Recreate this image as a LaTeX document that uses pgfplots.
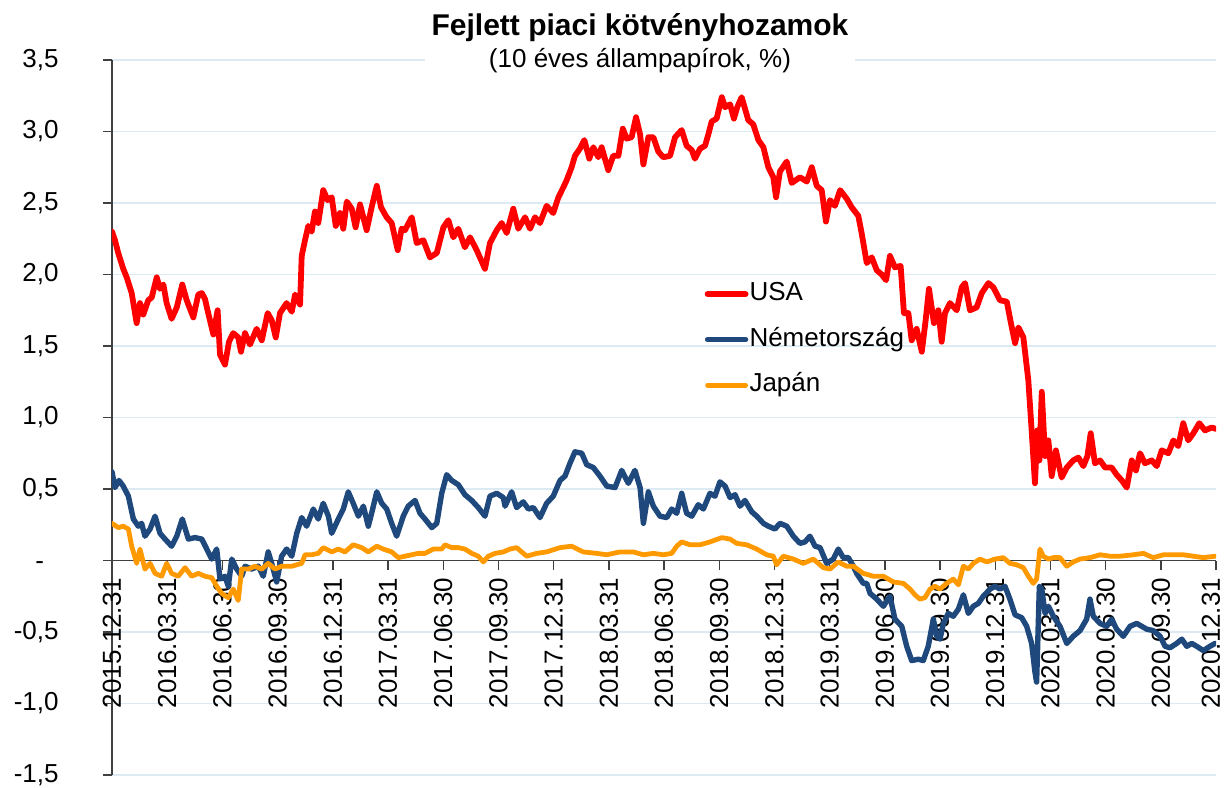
\documentclass[border=0pt]{standalone}
\usepackage{pgfplots}
\pgfplotsset{compat=1.18}
\usepackage{fontspec}
\setmainfont{Liberation Sans}
\definecolor{usared}{HTML}{FF0000}
\definecolor{deblue}{HTML}{1F497D}
\definecolor{jporange}{HTML}{FF9900}
\definecolor{gridblue}{HTML}{DCEBF3}
\definecolor{axisgray}{HTML}{404040}
\begin{document}
\begin{tikzpicture}
\begin{axis}[
  scale only axis,
  width=552pt, height=357.5pt,
  xmin=0, xmax=60, ymin=-1.5, ymax=3.5,
  axis x line*=middle, axis y line*=left,
  hide obscured x ticks=false, hide obscured y ticks=false,
  axis line style={axisgray, line width=0.7pt},
  tick style={axisgray, line width=0.7pt},
  tick align=outside,
  major tick length=4.5pt,
  ytick={-1.5,-1,-0.5,0,0.5,1,1.5,2,2.5,3,3.5},
  yticklabels={{-1,5},{-1,0},{-0,5},{-\phantom{5}},{0,5},{1,0},{1,5},{2,0},{2,5},{3,0},{3,5}},
  xtick={0,3,...,60},
  xticklabels={2015.12.31,2016.03.31,2016.06.30,2016.09.30,2016.12.31,2017.03.31,2017.06.30,2017.09.30,2017.12.31,2018.03.31,2018.06.30,2018.09.30,2018.12.31,2019.03.31,2019.06.30,2019.09.30,2019.12.31,2020.03.31,2020.06.30,2020.09.30,{\raisebox{2.5pt}[\height][\depth]{2020.12.31}}},
  tick label style={font=\fontsize{13}{15}\selectfont, text=black},
  yticklabel style={anchor=east, inner sep=0pt, xshift=-22pt},
  xticklabel style={rotate=90, anchor=east, inner sep=0pt, xshift=-4pt},
  ymajorgrids, grid style={gridblue, line width=0.8pt},
  legend style={at={(0.5365,0.692)}, anchor=north west, draw=none, fill=none,
    font=\fontsize{13}{15}\selectfont, row sep=9.25pt, inner sep=0pt,
    nodes={inner sep=0.5pt, text height=9.5pt, text depth=3pt}},
  legend cell align=left,
  legend image code/.code={\draw[#1, line cap=round] (0pt,0pt) -- (19pt,0pt);},
]
\addplot[usared, line width=2.9pt, line join=round, line cap=round] coordinates {
(0.00,2.30)(0.16,2.24)(0.34,2.15)(0.61,2.04)(0.80,1.98)(1.07,1.87)(1.34,1.66)(1.52,1.80)(1.70,1.72)(1.97,1.82)
(2.16,1.84)(2.43,1.98)(2.61,1.90)(2.79,1.93)(2.97,1.80)(3.24,1.69)(3.52,1.77)(3.82,1.93)(4.06,1.82)(4.42,1.70)
(4.69,1.86)(4.88,1.87)(5.05,1.83)(5.23,1.73)(5.51,1.58)(5.74,1.75)(5.87,1.44)(6.14,1.37)(6.36,1.53)(6.59,1.59)
(6.86,1.56)(7.01,1.46)(7.23,1.59)(7.50,1.51)(7.86,1.62)(8.14,1.54)(8.46,1.73)(8.68,1.68)(8.90,1.56)(9.13,1.73)
(9.49,1.80)(9.77,1.74)(9.95,1.86)(10.22,1.79)(10.31,2.13)(10.49,2.24)(10.67,2.34)(10.85,2.30)(11.03,2.44)(11.21,2.36)
(11.48,2.59)(11.72,2.52)(11.94,2.54)(12.16,2.34)(12.39,2.43)(12.57,2.32)(12.76,2.51)(13.03,2.46)(13.24,2.33)(13.48,2.49)
(13.84,2.31)(14.11,2.47)(14.39,2.62)(14.62,2.47)(14.93,2.40)(15.20,2.36)(15.53,2.17)(15.74,2.32)(15.92,2.31)(16.29,2.40)
(16.56,2.22)(16.92,2.24)(17.28,2.12)(17.65,2.15)(18.01,2.33)(18.28,2.38)(18.55,2.26)(18.82,2.32)(19.18,2.19)(19.46,2.26)
(19.82,2.17)(20.27,2.04)(20.54,2.22)(20.91,2.31)(21.18,2.36)(21.45,2.29)(21.81,2.46)(22.08,2.32)(22.45,2.40)(22.72,2.32)
(22.99,2.40)(23.26,2.36)(23.62,2.48)(23.98,2.43)(24.26,2.54)(24.53,2.61)(24.71,2.66)(24.98,2.75)(25.16,2.83)(25.43,2.88)
(25.67,2.94)(25.94,2.81)(26.16,2.89)(26.43,2.82)(26.61,2.89)(26.97,2.73)(27.24,2.83)(27.52,2.83)(27.76,3.02)(27.97,2.95)
(28.24,2.96)(28.48,3.10)(28.70,2.98)(28.88,2.77)(29.15,2.96)(29.42,2.96)(29.69,2.86)(29.96,2.82)(30.33,2.83)(30.60,2.96)
(30.96,3.01)(31.23,2.90)(31.51,2.87)(31.68,2.81)(31.96,2.88)(32.23,2.90)(32.41,2.98)(32.59,3.07)(32.86,3.09)(33.14,3.24)
(33.32,3.17)(33.59,3.19)(33.80,3.09)(33.98,3.17)(34.22,3.24)(34.58,3.08)(34.85,3.05)(35.13,2.94)(35.40,2.89)(35.67,2.75)
(35.94,2.68)(36.09,2.54)(36.30,2.72)(36.67,2.79)(36.94,2.64)(37.39,2.68)(37.76,2.65)(38.03,2.75)(38.30,2.62)(38.57,2.59)
(38.80,2.37)(39.02,2.52)(39.29,2.48)(39.57,2.59)(39.93,2.53)(40.20,2.47)(40.56,2.41)(40.74,2.29)(41.02,2.08)(41.29,2.12)
(41.56,2.03)(41.83,2.00)(42.07,1.96)(42.28,2.13)(42.55,2.05)(42.86,2.06)(43.04,1.73)(43.28,1.73)(43.46,1.54)(43.73,1.62)
(44.01,1.46)(44.22,1.68)(44.40,1.90)(44.67,1.66)(44.91,1.75)(45.09,1.53)(45.27,1.73)(45.54,1.80)(45.91,1.75)(46.18,1.91)
(46.36,1.94)(46.63,1.75)(46.99,1.77)(47.27,1.87)(47.63,1.94)(47.90,1.91)(48.26,1.82)(48.63,1.81)(48.90,1.63)(49.08,1.52)
(49.26,1.63)(49.53,1.56)(49.80,1.26)(49.98,0.91)(50.16,0.54)(50.29,0.91)(50.40,0.70)(50.53,1.18)(50.71,0.73)(50.89,0.84)
(51.07,0.59)(51.30,0.77)(51.61,0.58)(51.89,0.65)(52.24,0.70)(52.52,0.72)(52.79,0.66)(53.01,0.73)(53.19,0.89)(53.42,0.68)
(53.70,0.70)(53.97,0.65)(54.33,0.65)(54.60,0.60)(54.88,0.56)(55.15,0.51)(55.42,0.70)(55.65,0.63)(55.87,0.75)(56.14,0.68)
(56.51,0.70)(56.78,0.66)(57.05,0.77)(57.41,0.75)(57.68,0.84)(57.95,0.80)(58.22,0.96)(58.49,0.84)(58.77,0.89)(59.09,0.96)
(59.40,0.91)(59.77,0.93)(60.00,0.92)
};
\addlegendentry{USA}
\addplot[deblue, line width=2.7pt, line join=round, line cap=round] coordinates {
(0.00,0.62)(0.16,0.51)(0.38,0.56)(0.61,0.52)(0.89,0.45)(1.16,0.29)(1.43,0.24)(1.61,0.26)(1.79,0.17)(2.07,0.22)
(2.34,0.31)(2.61,0.19)(2.88,0.15)(3.24,0.10)(3.52,0.17)(3.82,0.29)(4.15,0.15)(4.51,0.16)(4.88,0.15)(5.15,0.08)
(5.42,0.01)(5.69,0.08)(5.87,-0.13)(6.14,-0.11)(6.32,-0.18)(6.51,0.01)(6.78,-0.06)(7.05,-0.11)(7.23,-0.04)(7.59,-0.06)
(7.95,-0.04)(8.22,-0.11)(8.49,0.06)(8.68,-0.02)(8.95,-0.15)(9.22,0.03)(9.49,0.08)(9.77,0.03)(10.04,0.19)(10.31,0.30)
(10.58,0.24)(10.94,0.36)(11.21,0.29)(11.48,0.40)(11.76,0.31)(11.94,0.19)(12.30,0.29)(12.57,0.36)(12.84,0.48)(13.11,0.40)
(13.39,0.31)(13.66,0.38)(13.93,0.24)(14.11,0.33)(14.39,0.48)(14.66,0.40)(14.93,0.36)(15.20,0.26)(15.47,0.17)(15.83,0.31)
(16.10,0.38)(16.47,0.42)(16.74,0.33)(17.01,0.29)(17.38,0.23)(17.65,0.26)(17.92,0.47)(18.19,0.60)(18.46,0.56)(18.82,0.53)
(19.18,0.46)(19.55,0.42)(19.91,0.37)(20.27,0.31)(20.54,0.45)(20.91,0.47)(21.27,0.44)(21.36,0.38)(21.72,0.48)(21.99,0.37)
(22.35,0.41)(22.63,0.36)(22.90,0.37)(23.26,0.30)(23.62,0.40)(23.98,0.45)(24.35,0.56)(24.62,0.59)(24.89,0.68)(25.16,0.76)
(25.53,0.75)(25.80,0.67)(26.16,0.65)(26.52,0.59)(26.89,0.52)(27.34,0.51)(27.70,0.63)(28.06,0.54)(28.42,0.63)(28.70,0.51)
(28.88,0.26)(29.15,0.48)(29.42,0.38)(29.78,0.31)(30.15,0.30)(30.42,0.36)(30.69,0.33)(30.96,0.47)(31.23,0.33)(31.51,0.31)
(31.86,0.39)(32.14,0.36)(32.50,0.47)(32.77,0.45)(33.04,0.55)(33.32,0.52)(33.59,0.44)(33.86,0.46)(34.13,0.38)(34.40,0.42)
(34.77,0.34)(35.04,0.31)(35.40,0.26)(35.67,0.24)(36.03,0.22)(36.30,0.26)(36.67,0.24)(37.03,0.17)(37.39,0.12)(37.66,0.13)
(37.93,0.17)(38.21,0.10)(38.48,0.09)(38.84,-0.02)(39.20,0.01)(39.47,0.08)(39.74,0.02)(40.02,0.02)(40.29,-0.04)(40.47,-0.09)
(40.83,-0.16)(41.02,-0.16)(41.20,-0.23)(41.38,-0.25)(41.56,-0.27)(41.92,-0.32)(42.28,-0.25)(42.55,-0.41)(42.92,-0.46)(43.19,-0.60)
(43.46,-0.70)(43.82,-0.69)(44.09,-0.70)(44.36,-0.60)(44.64,-0.41)(44.82,-0.53)(45.00,-0.55)(45.18,-0.44)(45.45,-0.37)(45.72,-0.39)
(46.00,-0.34)(46.27,-0.24)(46.54,-0.37)(46.81,-0.32)(47.08,-0.30)(47.35,-0.25)(47.72,-0.20)(47.99,-0.18)(48.26,-0.20)(48.53,-0.18)
(48.80,-0.27)(49.08,-0.38)(49.44,-0.40)(49.71,-0.46)(49.98,-0.58)(50.16,-0.78)(50.25,-0.85)(50.40,-0.18)(50.53,-0.20)(50.71,-0.37)
(50.89,-0.32)(51.16,-0.39)(51.52,-0.46)(51.89,-0.58)(52.24,-0.53)(52.61,-0.49)(52.97,-0.41)(53.15,-0.27)(53.33,-0.39)(53.70,-0.44)
(54.06,-0.46)(54.33,-0.41)(54.60,-0.48)(54.96,-0.53)(55.33,-0.46)(55.69,-0.44)(55.96,-0.46)(56.23,-0.48)(56.59,-0.49)(56.96,-0.53)
(57.23,-0.60)(57.50,-0.61)(57.86,-0.58)(58.14,-0.55)(58.41,-0.60)(58.68,-0.58)(58.95,-0.60)(59.31,-0.63)(59.67,-0.60)(59.95,-0.58)
};
\addlegendentry{Németország}
\addplot[jporange, line width=2.4pt, line join=round, line cap=round] coordinates {
(0.00,0.26)(0.34,0.23)(0.61,0.24)(0.89,0.22)(1.07,0.10)(1.34,-0.02)(1.52,0.08)(1.79,-0.06)(2.07,-0.02)(2.34,-0.09)
(2.70,-0.11)(2.97,-0.02)(3.24,-0.09)(3.60,-0.11)(3.97,-0.05)(4.33,-0.11)(4.69,-0.09)(5.05,-0.11)(5.42,-0.12)(5.69,-0.18)
(5.96,-0.23)(6.32,-0.26)(6.59,-0.20)(6.86,-0.28)(7.05,-0.06)(7.41,-0.06)(7.77,-0.04)(8.14,-0.06)(8.49,-0.02)(8.86,-0.06)
(9.22,-0.04)(9.77,-0.04)(10.31,-0.02)(10.49,0.04)(10.85,0.04)(11.21,0.05)(11.48,0.09)(11.94,0.06)(12.30,0.08)(12.66,0.06)
(13.11,0.11)(13.57,0.09)(13.93,0.06)(14.39,0.10)(14.74,0.08)(15.20,0.06)(15.56,0.02)(15.92,0.03)(16.29,0.04)(16.65,0.05)
(17.01,0.05)(17.46,0.08)(17.92,0.08)(18.10,0.11)(18.46,0.09)(18.82,0.09)(19.18,0.08)(19.55,0.05)(19.91,0.03)(20.18,-0.01)
(20.45,0.03)(20.82,0.05)(21.27,0.06)(21.63,0.08)(21.99,0.09)(22.54,0.03)(23.08,0.05)(23.62,0.06)(24.35,0.09)(24.98,0.10)
(25.61,0.06)(26.34,0.05)(26.89,0.04)(27.61,0.06)(28.33,0.06)(28.88,0.04)(29.42,0.05)(29.96,0.04)(30.42,0.05)(30.69,0.10)
(30.96,0.13)(31.41,0.11)(31.96,0.11)(32.50,0.13)(33.14,0.16)(33.59,0.15)(33.95,0.12)(34.49,0.11)(35.04,0.08)(35.58,0.04)
(35.94,0.03)(36.12,-0.03)(36.48,0.03)(37.03,0.01)(37.57,-0.02)(38.11,0.01)(38.66,-0.05)(39.02,-0.06)(39.47,-0.01)(39.93,-0.04)
(40.29,-0.04)(40.83,-0.09)(41.38,-0.11)(41.92,-0.11)(42.46,-0.15)(43.01,-0.16)(43.37,-0.20)(43.64,-0.24)(43.91,-0.27)(44.18,-0.26)
(44.46,-0.20)(44.73,-0.18)(45.00,-0.20)(45.36,-0.16)(45.72,-0.13)(46.00,-0.17)(46.27,-0.04)(46.54,-0.06)(46.81,-0.02)(47.17,0.01)
(47.54,-0.01)(47.99,0.01)(48.44,0.02)(48.80,-0.02)(49.17,-0.03)(49.53,-0.05)(49.80,-0.11)(50.07,-0.16)(50.25,-0.13)(50.43,0.08)
(50.61,0.03)(50.89,0.01)(51.16,0.02)(51.52,0.02)(51.89,-0.04)(52.24,-0.01)(52.61,0.01)(53.15,0.02)(53.70,0.04)(54.24,0.03)
(54.78,0.03)(55.51,0.04)(56.05,0.05)(56.59,0.02)(57.14,0.04)(57.68,0.04)(58.22,0.04)(58.77,0.03)(59.31,0.02)(59.95,0.03)
};
\addlegendentry{Japán}
\end{axis}
\fill[white] (156.5pt,351.5pt) rectangle (371.5pt,385pt);
\node[font=\fontsize{15}{18}\selectfont\bfseries, inner sep=0pt] at (264pt,373.5pt) {Fejlett piaci kötvényhozamok};
\node[font=\fontsize{13}{15}\selectfont, inner sep=0pt] at (264pt,357pt) {(10 éves állampapírok, \%)};
\pgfresetboundingbox
\useasboundingbox (-56pt,-6pt) rectangle (556pt,387.5pt);
\end{tikzpicture}
\end{document}
